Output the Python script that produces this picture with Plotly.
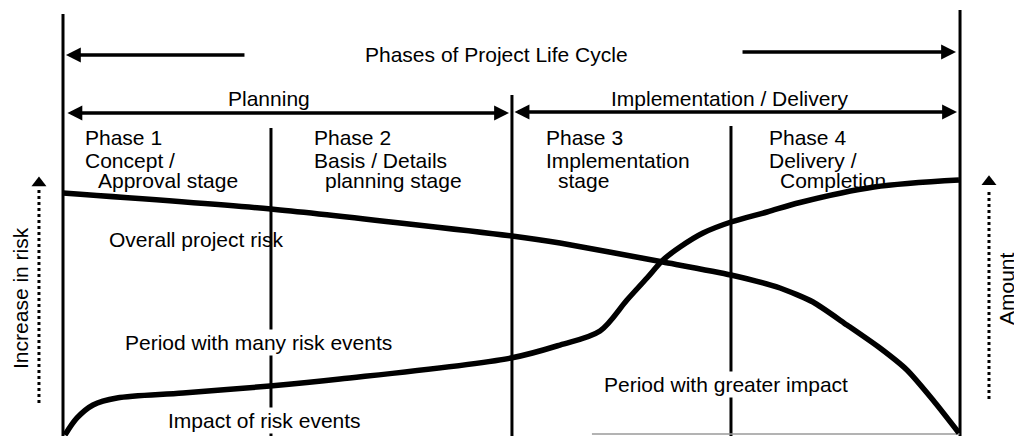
"""Project life cycle risk diagram: overall risk vs impact of risk events."""

import plotly.graph_objects as go

# x = project progress (% of life cycle), y = level (% of chart height)
phase_bounds = [0, 23.2, 50.08, 74.51, 100.06]
phase_line_tops = [96.8, 70.64, 78.21, 71.1, 97.71]

risk_x = [0, 23.2, 50.08, 55.44, 66.93, 74.51, 79.98, 83.66, 87.45, 91.13, 94.14, 97.04, 99.94]
risk_y = [55.73, 52.06, 45.87, 44.27, 39.91, 36.93, 33.94, 30.73, 25.46, 20.18, 15.14, 8.26, 0.69]

impact_x = [0.22, 1.56, 3.35, 6.02, 13.39, 23.09, 30.9, 49.97, 55.44, 59.9, 62.91, 65.14,
            66.93, 68.82, 71.39, 74.51, 78.53, 82.21, 90.46, 99.94]
impact_y = [0.23, 4.13, 7.11, 8.72, 9.86, 11.47, 13.07, 17.89, 20.87, 24.08, 31.19, 36.24,
            40.37, 43.35, 46.56, 49.08, 51.38, 53.56, 57.11, 58.72]

phase_titles = ["Phase 1", "Phase 2", "Phase 3", "Phase 4"]
phase_names = ["Concept /", "Basis / Details", "Implementation", "Delivery /"]
phase_stages = ["Approval stage", "planning stage", "stage", "Completion"]
phase_text_x = [2.23, 27.77, 53.65, 78.53]
phase_stage_x = [3.68, 29.0, 54.99, 79.75]

curve_labels = ["Overall project risk", "Period with many risk events",
                "Impact of risk events", "Period with greater impact"]
curve_label_x = [4.91, 6.69, 11.49, 60.12]
curve_label_y = [45.07, 21.44, 3.56, 11.81]
curve_label_masks = [False, True, True, True]

FONT = dict(family="Liberation Sans, Arial, sans-serif", size=21, color="black")

fig = go.Figure()

# Phase divider lines
vx, vy = [], []
for b, top in zip(phase_bounds, phase_line_tops):
    vx += [b, b, None]
    vy += [0, top, None]
fig.add_trace(go.Scatter(x=vx, y=vy, mode="lines", line=dict(color="black", width=3),
                         hoverinfo="skip"))

# faint scan line along bottom
fig.add_trace(go.Scatter(x=[59.0, 100.0], y=[0.46, 0.46], mode="lines",
                         line=dict(color="#9a9a9a", width=1.5), hoverinfo="skip"))

# Curves
fig.add_trace(go.Scatter(x=risk_x, y=risk_y, mode="lines",
                         line=dict(color="black", width=5.5, shape="spline", smoothing=0.6),
                         name="Overall project risk"))
fig.add_trace(go.Scatter(x=impact_x, y=impact_y, mode="lines",
                         line=dict(color="black", width=5.5, shape="spline", smoothing=0.9),
                         name="Impact of risk events"))

# Dotted side arrows
for sx, y0, y1, tip in [(-2.68, 7.57, 56.5, 58.0), (103.29, 8.49, 56.5, 58.3)]:
    fig.add_trace(go.Scatter(x=[sx, sx], y=[y0, y1], mode="lines",
                             line=dict(color="black", width=3, dash="3px,3px"),
                             hoverinfo="skip"))
    fig.add_trace(go.Scatter(x=[sx], y=[tip], mode="markers",
                             marker=dict(symbol="triangle-up", size=13, color="black"),
                             hoverinfo="skip"))

# Arrows: (head x, head y, tail x, tail y, sides)
arrows = [
    (0.33, 87.39, 20.41, 87.39, "end"),
    (99.61, 88.07, 75.63, 88.07, "end"),
    (49.75, 74.08, 0.33, 74.08, "end+start"),
    (99.72, 74.31, 50.2, 74.31, "end+start"),
]
for hx, hy, tx, ty, side in arrows:
    fig.add_annotation(x=hx, y=hy, ax=tx, ay=ty, xref="x", yref="y", axref="x", ayref="y",
                       text="", showarrow=True, arrowhead=2, startarrowhead=2,
                       arrowside=side, arrowsize=0.85, startarrowsize=0.85,
                       arrowwidth=3.5, arrowcolor="black")

# Headings
fig.add_annotation(x=48.41, y=87.61, text="Phases of Project Life Cycle", showarrow=False,
                   font=FONT, xanchor="center", yanchor="middle")
fig.add_annotation(x=22.98, y=77.41, text="Planning", showarrow=False,
                   font=FONT, xanchor="center", yanchor="middle")
fig.add_annotation(x=74.35, y=77.52, text="Implementation / Delivery", showarrow=False,
                   font=FONT, xanchor="center", yanchor="middle")

# Phase descriptions
for t, n, s, x0, x1 in zip(phase_titles, phase_names, phase_stages, phase_text_x, phase_stage_x):
    fig.add_annotation(x=x0, y=68.46, text=t, showarrow=False, font=FONT,
                       xanchor="left", yanchor="middle")
    fig.add_annotation(x=x0, y=63.3, text=n, showarrow=False, font=FONT,
                       xanchor="left", yanchor="middle")
    fig.add_annotation(x=x1, y=58.49, text=s, showarrow=False, font=FONT,
                       xanchor="left", yanchor="middle")

# Curve labels
for lab, lx, ly, mask in zip(curve_labels, curve_label_x, curve_label_y, curve_label_masks):
    fig.add_annotation(x=lx, y=ly, text=lab, showarrow=False, font=FONT,
                       xanchor="left", yanchor="middle",
                       bgcolor="white" if mask else "rgba(0,0,0,0)")

# Side axis labels
fig.add_annotation(x=-4.8, y=31.65, text="Increase in risk", textangle=-90, showarrow=False,
                   font=FONT, xanchor="center", yanchor="middle")
fig.add_annotation(x=105.3, y=33.72, text="Amount", textangle=-90, showarrow=False,
                   font=FONT, xanchor="center", yanchor="middle")

fig.update_layout(
    width=1014,
    height=436,
    margin=dict(l=0, r=0, t=0, b=0),
    showlegend=False,
    plot_bgcolor="white",
    paper_bgcolor="white",
    xaxis=dict(range=[-7.027, 106.08], visible=False, fixedrange=True),
    yaxis=dict(range=[0, 100], visible=False, fixedrange=True),
)

# drop the default page margin so the figure sits at the window's corner
fig.write_html("out.html", config={"displayModeBar": False},
               post_script="document.body.style.margin = '0';")
